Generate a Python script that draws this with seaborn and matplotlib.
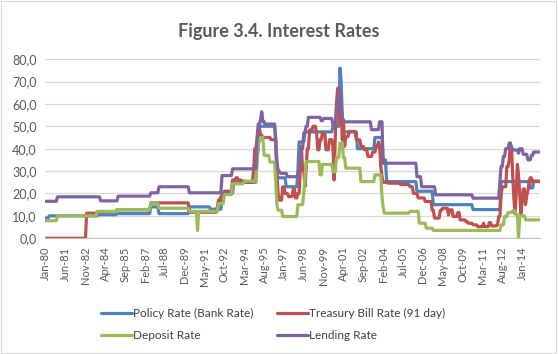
import numpy as np
import pandas as pd
import matplotlib
matplotlib.use("Agg")
import matplotlib.pyplot as plt
import seaborn as sns
from matplotlib.patches import Rectangle

# monthly, Jan-80 .. Apr-15
n_months = 424
months = pd.date_range("1980-01-01", periods=n_months, freq="MS")

# step data: month index where a level starts, and the level
policy_start = [0, 3, 45, 61, 90, 97, 123, 141, 151, 161, 181, 182, 183, 197, 198, 206, 216, 217,
                222, 246, 252, 253, 254, 255, 267, 282, 289, 292, 318, 332, 366, 390, 415, 418]
policy_rate = [9.0, 10.0, 10.5, 11.0, 14.0, 11.0, 14.0, 13.0, 20.0, 25.0, 35.0, 40.0, 50.0, 45.0, 27.0, 23.0, 30.0, 43.0,
               47.5, 50.0, 76.0, 70.0, 55.0, 47.5, 40.0, 45.0, 35.0, 25.3, 21.0, 15.0, 12.8, 25.3, 22.5, 25.3]

tbill_start = [0, 35, 46, 61, 90, 123, 147, 148, 150, 153, 160, 163, 165, 168, 172, 178, 179, 181, 182, 183,
               184, 186, 193, 198, 199, 200, 203, 205, 208, 212, 214, 216, 218, 219, 220, 222, 223, 224, 226,
               229, 232, 233, 235, 237, 240, 243, 246, 247, 248, 249, 250, 251, 252, 253, 254, 255, 256, 257,
               260, 266, 270, 273, 276, 280, 283, 285, 286, 287, 288, 289, 293, 304, 312, 315, 319, 325, 331,
               333, 338, 340, 345, 346, 349, 353, 355, 360, 362, 366, 370, 375, 376, 380, 382, 387, 388, 390,
               391, 395, 397, 398, 399, 400, 401, 402, 403, 404, 405, 406, 407, 408, 409, 411, 412, 413, 414,
               415, 417, 418]
tbill_rate = [0.0, 11.2, 11.9, 12.7, 15.8, 11.6, 14.0, 17.0, 18.5, 21.0, 26.0, 27.0, 26.0, 25.5, 25.0, 30.0, 40.0, 44.0, 47.7, 49.0,
              46.0, 45.0, 44.0, 30.0, 20.0, 17.0, 23.0, 20.0, 18.6, 22.0, 18.0, 20.0, 30.0, 41.0, 30.5, 23.0, 30.5, 40.0, 48.4,
              50.0, 47.0, 39.5, 44.0, 47.0, 39.5, 44.0, 41.0, 26.0, 45.0, 60.0, 67.0, 61.0, 51.0, 57.0, 44.0, 53.0, 41.0, 45.4,
              47.7, 44.0, 41.0, 39.5, 36.5, 38.5, 41.0, 43.0, 41.0, 32.0, 27.5, 25.0, 24.6, 24.0, 23.0, 20.0, 18.0, 16.4, 12.5,
              9.0, 12.5, 13.4, 10.4, 12.7, 9.7, 11.5, 8.2, 7.4, 6.7, 6.0, 5.2, 6.7, 5.2, 7.0, 5.5, 6.0, 9.7, 18.6,
              23.0, 32.0, 35.0, 42.5, 40.0, 28.0, 18.0, 11.0, 20.0, 33.0, 28.0, 20.0, 11.0, 16.0, 22.0, 15.0, 19.0, 21.0, 25.0,
              27.0, 25.0, 25.5]

deposit_start = [0, 10, 44, 62, 90, 97, 123, 130, 131, 148, 153, 160, 170, 181, 182, 184, 187, 192, 197, 198,
                 199, 203, 216, 221, 222, 223, 235, 237, 246, 249, 252, 255, 257, 270, 282, 288, 289, 290, 312,
                 320, 326, 332, 390, 393, 396, 400, 403, 405, 406, 411]
deposit_rate = [7.8, 10.0, 12.0, 12.8, 15.5, 13.4, 12.0, 3.5, 12.0, 15.5, 19.5, 24.3, 25.5, 35.0, 43.0, 45.0, 37.0, 34.0, 25.0, 15.0,
                12.5, 9.7, 15.0, 20.0, 27.0, 34.3, 28.3, 33.0, 29.7, 36.0, 42.5, 36.0, 31.3, 25.3, 28.3, 18.6, 14.0, 11.2, 12.0,
                6.7, 4.5, 3.5, 6.0, 9.7, 11.5, 12.3, 10.4, 0.3, 10.0, 8.2]

lending_start = [0, 10, 47, 62, 90, 97, 123, 151, 160, 181, 182, 184, 185, 186, 188, 197, 198, 199, 201, 207,
                 217, 219, 221, 223, 225, 236, 238, 246, 249, 251, 252, 253, 254, 255, 279, 286, 289, 318, 322,
                 334, 366, 389, 390, 392, 394, 397, 399, 401, 405, 406, 409, 413, 416, 418]
lending_rate = [16.5, 18.5, 16.7, 18.8, 20.3, 23.0, 20.3, 28.0, 31.0, 45.0, 51.0, 53.0, 56.5, 52.0, 51.0, 42.0, 35.0, 30.0, 29.0, 27.5,
                33.0, 40.0, 47.0, 50.0, 54.0, 52.5, 53.5, 50.5, 58.0, 64.0, 66.0, 58.0, 54.0, 52.0, 48.5, 52.0, 33.5, 27.5, 23.0,
                19.4, 17.9, 25.0, 32.0, 36.5, 40.0, 42.5, 40.0, 39.4, 38.0, 40.0, 37.5, 35.0, 37.0, 38.5]

series_names = ["Policy Rate (Bank Rate)", "Treasury Bill Rate (91 day)", "Deposit Rate", "Lending Rate"]
series_colors = ["#4F81BD", "#C0504D", "#9BBB59", "#8064A2"]


def expand(starts, vals):
    lengths = np.diff(starts + [n_months])
    return np.repeat(vals, lengths)


df = pd.DataFrame({
    "idx": np.arange(n_months),
    series_names[0]: expand(policy_start, policy_rate),
    series_names[1]: expand(tbill_start, tbill_rate),
    series_names[2]: expand(deposit_start, deposit_rate),
    series_names[3]: expand(lending_start, lending_rate),
})
long_df = df.melt(id_vars="idx", var_name="series", value_name="rate")

sns.set_style("white")
plt.rcParams["font.family"] = ["Lato", "DejaVu Sans"]

fig = plt.figure(figsize=(5.58, 3.54), dpi=100)
ax = fig.add_axes([0.081, 0.327, 0.887, 0.506])

sns.lineplot(data=long_df, x="idx", y="rate", hue="series", hue_order=series_names,
             palette=series_colors, linewidth=2.3, ax=ax, legend=True)

ax.set_xlim(-0.5, n_months - 0.5)
ax.set_ylim(0, 80)
ax.set_yticks(np.arange(0, 81, 10))
ax.set_yticklabels([f"{v:.1f}".replace(".", ",") for v in np.arange(0, 81, 10)])
tick_pos = np.arange(0, n_months, 17)
ax.set_xticks(tick_pos)
ax.set_xticklabels([months[i].strftime("%b-%y") for i in tick_pos], rotation=90)
ax.tick_params(axis="x", length=4, color="#BFBFBF", labelsize=8, labelcolor="#595959", pad=2)
ax.tick_params(axis="y", length=0, labelsize=9, labelcolor="#595959", pad=6)
ax.grid(axis="y", color="#D9D9D9", linewidth=0.9)
ax.set_axisbelow(True)
for s in ["top", "right", "left"]:
    ax.spines[s].set_visible(False)
ax.spines["bottom"].set_color("#BFBFBF")
ax.set_xlabel("")
ax.set_ylabel("")

# legend filled row by row like the original: policy, t-bill / deposit, lending
handles, labels = ax.get_legend_handles_labels()
order = [0, 2, 1, 3]
ax.legend([handles[i] for i in order], [labels[i] for i in order], ncol=2, loc="upper center",
          bbox_to_anchor=(0.49, 0.16), bbox_transform=fig.transFigure, frameon=False,
          fontsize=8.5, handlelength=2.6, handletextpad=0.1, columnspacing=2.0,
          labelcolor="#404040", labelspacing=0.9)

fig.text(0.5, 0.91, "Figure 3.4. Interest Rates", ha="center", va="center",
         fontsize=13, fontweight="bold", color="#595959")

fig.patches.append(Rectangle((0.002, 0.003), 0.994, 0.994, transform=fig.transFigure,
                             fill=False, edgecolor="#D9D9D9", linewidth=0.8))

fig.savefig("out.png", dpi=100)
